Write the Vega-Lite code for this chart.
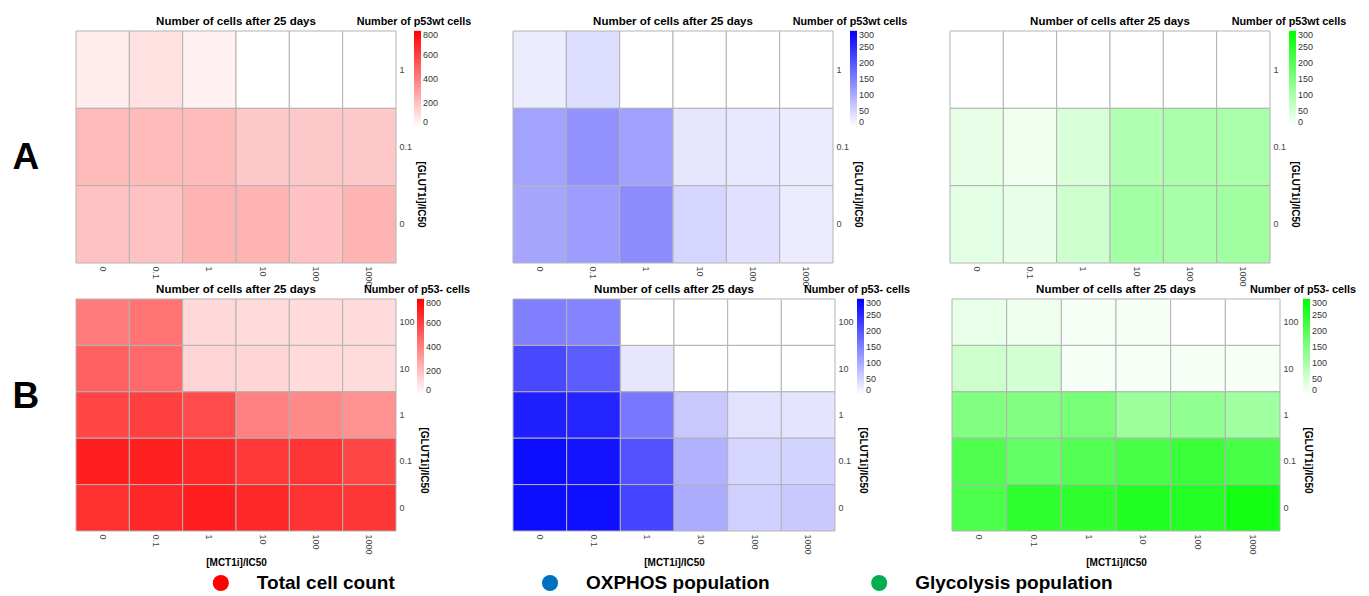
{
  "$schema": "https://vega.github.io/schema/vega-lite/v6.json",
  "padding": {"left": 12, "top": 15, "right": 5, "bottom": 2},
  "background": "white",
  "config": {
    "font": "Liberation Sans",
    "view": {"stroke": null},
    "axis": {"ticks": false, "domain": false, "grid": false, "labelFontSize": 9, "labelColor": "#444444", "titleFontSize": 10, "titleFontWeight": "bold", "titleColor": "#000000", "labelPadding": 3},
    "title": {"fontSize": 11.5, "fontWeight": "bold", "color": "#000000", "offset": -11},
    "legend": {"labelFontSize": 9, "labelColor": "#333333", "titleFontSize": 10.8, "titleFontWeight": "bold", "titleColor": "#000000", "gradientStrokeWidth": 0, "titleAnchor": "start", "titleAlign": "center", "labelOverlap": false, "titlePadding": 4, "gradientLength": 96, "gradientThickness": 7, "labelOffset": 4}
  },
  "datasets": {
    "cells": [
      {"panel": "A1", "glut": "1", "mct": "0", "v": 60}, {"panel": "A1", "glut": "1", "mct": "0.1", "v": 95}, {"panel": "A1", "glut": "1", "mct": "1", "v": 45}, {"panel": "A1", "glut": "1", "mct": "10", "v": 0}, {"panel": "A1", "glut": "1", "mct": "100", "v": 0}, {"panel": "A1", "glut": "1", "mct": "1000", "v": 0},
      {"panel": "A1", "glut": "0.1", "mct": "0", "v": 215}, {"panel": "A1", "glut": "0.1", "mct": "0.1", "v": 215}, {"panel": "A1", "glut": "0.1", "mct": "1", "v": 215}, {"panel": "A1", "glut": "0.1", "mct": "10", "v": 172}, {"panel": "A1", "glut": "0.1", "mct": "100", "v": 172}, {"panel": "A1", "glut": "0.1", "mct": "1000", "v": 172},
      {"panel": "A1", "glut": "0", "mct": "0", "v": 190}, {"panel": "A1", "glut": "0", "mct": "0.1", "v": 190}, {"panel": "A1", "glut": "0", "mct": "1", "v": 235}, {"panel": "A1", "glut": "0", "mct": "10", "v": 235}, {"panel": "A1", "glut": "0", "mct": "100", "v": 195}, {"panel": "A1", "glut": "0", "mct": "1000", "v": 235},

      {"panel": "A2", "glut": "1", "mct": "0", "v": 22}, {"panel": "A2", "glut": "1", "mct": "0.1", "v": 40}, {"panel": "A2", "glut": "1", "mct": "1", "v": 0}, {"panel": "A2", "glut": "1", "mct": "10", "v": 0}, {"panel": "A2", "glut": "1", "mct": "100", "v": 0}, {"panel": "A2", "glut": "1", "mct": "1000", "v": 0},
      {"panel": "A2", "glut": "0.1", "mct": "0", "v": 110}, {"panel": "A2", "glut": "0.1", "mct": "0.1", "v": 128}, {"panel": "A2", "glut": "0.1", "mct": "1", "v": 112}, {"panel": "A2", "glut": "0.1", "mct": "10", "v": 30}, {"panel": "A2", "glut": "0.1", "mct": "100", "v": 28}, {"panel": "A2", "glut": "0.1", "mct": "1000", "v": 22},
      {"panel": "A2", "glut": "0", "mct": "0", "v": 105}, {"panel": "A2", "glut": "0", "mct": "0.1", "v": 115}, {"panel": "A2", "glut": "0", "mct": "1", "v": 135}, {"panel": "A2", "glut": "0", "mct": "10", "v": 50}, {"panel": "A2", "glut": "0", "mct": "100", "v": 35}, {"panel": "A2", "glut": "0", "mct": "1000", "v": 22},

      {"panel": "A3", "glut": "1", "mct": "0", "v": 0}, {"panel": "A3", "glut": "1", "mct": "0.1", "v": 0}, {"panel": "A3", "glut": "1", "mct": "1", "v": 0}, {"panel": "A3", "glut": "1", "mct": "10", "v": 0}, {"panel": "A3", "glut": "1", "mct": "100", "v": 0}, {"panel": "A3", "glut": "1", "mct": "1000", "v": 0},
      {"panel": "A3", "glut": "0.1", "mct": "0", "v": 28}, {"panel": "A3", "glut": "0.1", "mct": "0.1", "v": 18}, {"panel": "A3", "glut": "0.1", "mct": "1", "v": 45}, {"panel": "A3", "glut": "0.1", "mct": "10", "v": 92}, {"panel": "A3", "glut": "0.1", "mct": "100", "v": 100}, {"panel": "A3", "glut": "0.1", "mct": "1000", "v": 100},
      {"panel": "A3", "glut": "0", "mct": "0", "v": 33}, {"panel": "A3", "glut": "0", "mct": "0.1", "v": 28}, {"panel": "A3", "glut": "0", "mct": "1", "v": 58}, {"panel": "A3", "glut": "0", "mct": "10", "v": 108}, {"panel": "A3", "glut": "0", "mct": "100", "v": 104}, {"panel": "A3", "glut": "0", "mct": "1000", "v": 112},

      {"panel": "B1", "glut": "100", "mct": "0", "v": 410}, {"panel": "B1", "glut": "100", "mct": "0.1", "v": 440}, {"panel": "B1", "glut": "100", "mct": "1", "v": 120}, {"panel": "B1", "glut": "100", "mct": "10", "v": 112}, {"panel": "B1", "glut": "100", "mct": "100", "v": 112}, {"panel": "B1", "glut": "100", "mct": "1000", "v": 112},
      {"panel": "B1", "glut": "10", "mct": "0", "v": 500}, {"panel": "B1", "glut": "10", "mct": "0.1", "v": 470}, {"panel": "B1", "glut": "10", "mct": "1", "v": 135}, {"panel": "B1", "glut": "10", "mct": "10", "v": 128}, {"panel": "B1", "glut": "10", "mct": "100", "v": 112}, {"panel": "B1", "glut": "10", "mct": "1000", "v": 110},
      {"panel": "B1", "glut": "1", "mct": "0", "v": 585}, {"panel": "B1", "glut": "1", "mct": "0.1", "v": 600}, {"panel": "B1", "glut": "1", "mct": "1", "v": 565}, {"panel": "B1", "glut": "1", "mct": "10", "v": 400}, {"panel": "B1", "glut": "1", "mct": "100", "v": 370}, {"panel": "B1", "glut": "1", "mct": "1000", "v": 345},
      {"panel": "B1", "glut": "0.1", "mct": "0", "v": 705}, {"panel": "B1", "glut": "0.1", "mct": "0.1", "v": 700}, {"panel": "B1", "glut": "0.1", "mct": "1", "v": 670}, {"panel": "B1", "glut": "0.1", "mct": "10", "v": 625}, {"panel": "B1", "glut": "0.1", "mct": "100", "v": 630}, {"panel": "B1", "glut": "0.1", "mct": "1000", "v": 580},
      {"panel": "B1", "glut": "0", "mct": "0", "v": 650}, {"panel": "B1", "glut": "0", "mct": "0.1", "v": 675}, {"panel": "B1", "glut": "0", "mct": "1", "v": 710}, {"panel": "B1", "glut": "0", "mct": "10", "v": 675}, {"panel": "B1", "glut": "0", "mct": "100", "v": 640}, {"panel": "B1", "glut": "0", "mct": "1000", "v": 630},

      {"panel": "B2", "glut": "100", "mct": "0", "v": 150}, {"panel": "B2", "glut": "100", "mct": "0.1", "v": 145}, {"panel": "B2", "glut": "100", "mct": "1", "v": 0}, {"panel": "B2", "glut": "100", "mct": "10", "v": 0}, {"panel": "B2", "glut": "100", "mct": "100", "v": 0}, {"panel": "B2", "glut": "100", "mct": "1000", "v": 0},
      {"panel": "B2", "glut": "10", "mct": "0", "v": 215}, {"panel": "B2", "glut": "10", "mct": "0.1", "v": 190}, {"panel": "B2", "glut": "10", "mct": "1", "v": 30}, {"panel": "B2", "glut": "10", "mct": "10", "v": 0}, {"panel": "B2", "glut": "10", "mct": "100", "v": 0}, {"panel": "B2", "glut": "10", "mct": "1000", "v": 0},
      {"panel": "B2", "glut": "1", "mct": "0", "v": 262}, {"panel": "B2", "glut": "1", "mct": "0.1", "v": 258}, {"panel": "B2", "glut": "1", "mct": "1", "v": 160}, {"panel": "B2", "glut": "1", "mct": "10", "v": 65}, {"panel": "B2", "glut": "1", "mct": "100", "v": 34}, {"panel": "B2", "glut": "1", "mct": "1000", "v": 32},
      {"panel": "B2", "glut": "0.1", "mct": "0", "v": 286}, {"panel": "B2", "glut": "0.1", "mct": "0.1", "v": 278}, {"panel": "B2", "glut": "0.1", "mct": "1", "v": 205}, {"panel": "B2", "glut": "0.1", "mct": "10", "v": 92}, {"panel": "B2", "glut": "0.1", "mct": "100", "v": 50}, {"panel": "B2", "glut": "0.1", "mct": "1000", "v": 52},
      {"panel": "B2", "glut": "0", "mct": "0", "v": 286}, {"panel": "B2", "glut": "0", "mct": "0.1", "v": 282}, {"panel": "B2", "glut": "0", "mct": "1", "v": 220}, {"panel": "B2", "glut": "0", "mct": "10", "v": 98}, {"panel": "B2", "glut": "0", "mct": "100", "v": 55}, {"panel": "B2", "glut": "0", "mct": "1000", "v": 63},

      {"panel": "B3", "glut": "100", "mct": "0", "v": 27}, {"panel": "B3", "glut": "100", "mct": "0.1", "v": 20}, {"panel": "B3", "glut": "100", "mct": "1", "v": 12}, {"panel": "B3", "glut": "100", "mct": "10", "v": 12}, {"panel": "B3", "glut": "100", "mct": "100", "v": 0}, {"panel": "B3", "glut": "100", "mct": "1000", "v": 0},
      {"panel": "B3", "glut": "10", "mct": "0", "v": 60}, {"panel": "B3", "glut": "10", "mct": "0.1", "v": 52}, {"panel": "B3", "glut": "10", "mct": "1", "v": 12}, {"panel": "B3", "glut": "10", "mct": "10", "v": 10}, {"panel": "B3", "glut": "10", "mct": "100", "v": 12}, {"panel": "B3", "glut": "10", "mct": "1000", "v": 10},
      {"panel": "B3", "glut": "1", "mct": "0", "v": 150}, {"panel": "B3", "glut": "1", "mct": "0.1", "v": 150}, {"panel": "B3", "glut": "1", "mct": "1", "v": 160}, {"panel": "B3", "glut": "1", "mct": "10", "v": 118}, {"panel": "B3", "glut": "1", "mct": "100", "v": 128}, {"panel": "B3", "glut": "1", "mct": "1000", "v": 112},
      {"panel": "B3", "glut": "0.1", "mct": "0", "v": 208}, {"panel": "B3", "glut": "0.1", "mct": "0.1", "v": 182}, {"panel": "B3", "glut": "0.1", "mct": "1", "v": 203}, {"panel": "B3", "glut": "0.1", "mct": "10", "v": 215}, {"panel": "B3", "glut": "0.1", "mct": "100", "v": 234}, {"panel": "B3", "glut": "0.1", "mct": "1000", "v": 215},
      {"panel": "B3", "glut": "0", "mct": "0", "v": 210}, {"panel": "B3", "glut": "0", "mct": "0.1", "v": 248}, {"panel": "B3", "glut": "0", "mct": "1", "v": 245}, {"panel": "B3", "glut": "0", "mct": "10", "v": 262}, {"panel": "B3", "glut": "0", "mct": "100", "v": 258}, {"panel": "B3", "glut": "0", "mct": "1000", "v": 278}
    ]
  },
  "bounds": "full",
  "spacing": -4,
  "resolve": {"scale": {"color": "independent", "x": "independent", "y": "independent"}, "legend": {"color": "independent"}},
  "vconcat": [
    {
      "title": {"text": "A", "orient": "left", "angle": 0, "fontSize": 37, "fontWeight": "bold", "anchor": "middle", "align": "center", "baseline": "middle", "offset": 23, "dy": 7},
      "bounds": "flush",
      "spacing": 117,
      "resolve": {"scale": {"color": "independent", "x": "independent", "y": "independent"}, "legend": {"color": "independent"}},
      "hconcat": [
        {
          "title": "Number of cells after 25 days",
          "width": 320, "height": 232,
          "data": {"name": "cells"},
          "transform": [{"filter": "datum.panel == 'A1'"}],
          "mark": {"type": "rect", "stroke": "#b3b3b3", "strokeWidth": 1},
          "encoding": {
            "x": {"field": "mct", "type": "ordinal", "sort": ["0", "0.1", "1", "10", "100", "1000"], "axis": {"labelAngle": 90, "title": null}},
            "y": {"field": "glut", "type": "ordinal", "sort": ["1", "0.1", "0"], "axis": {"orient": "right", "labelAngle": 0, "title": "[GLUT1i]/IC50", "titleAngle": 90, "titleY": 163}},
            "color": {"field": "v", "type": "quantitative", "scale": {"domain": [0, 800], "range": ["#ffffff", "#ff0000"], "interpolate": "rgb"}, "legend": {"title": "Number of p53wt cells", "orient": "none", "legendX": 281, "legendY": -15, "values": [0, 200, 400, 600, 800]}}
          }
        },
        {
          "title": "Number of cells after 25 days",
          "width": 320, "height": 232,
          "data": {"name": "cells"},
          "transform": [{"filter": "datum.panel == 'A2'"}],
          "mark": {"type": "rect", "stroke": "#b3b3b3", "strokeWidth": 1},
          "encoding": {
            "x": {"field": "mct", "type": "ordinal", "sort": ["0", "0.1", "1", "10", "100", "1000"], "axis": {"labelAngle": 90, "title": null}},
            "y": {"field": "glut", "type": "ordinal", "sort": ["1", "0.1", "0"], "axis": {"orient": "right", "labelAngle": 0, "title": "[GLUT1i]/IC50", "titleAngle": 90, "titleY": 163}},
            "color": {"field": "v", "type": "quantitative", "scale": {"domain": [0, 300], "range": ["#ffffff", "#0000ff"], "interpolate": "rgb"}, "legend": {"title": "Number of p53wt cells", "orient": "none", "legendX": 280, "legendY": -15, "values": [0, 50, 100, 150, 200, 250, 300]}}
          }
        },
        {
          "title": "Number of cells after 25 days",
          "width": 320, "height": 232,
          "data": {"name": "cells"},
          "transform": [{"filter": "datum.panel == 'A3'"}],
          "mark": {"type": "rect", "stroke": "#b3b3b3", "strokeWidth": 1},
          "encoding": {
            "x": {"field": "mct", "type": "ordinal", "sort": ["0", "0.1", "1", "10", "100", "1000"], "axis": {"labelAngle": 90, "title": null}},
            "y": {"field": "glut", "type": "ordinal", "sort": ["1", "0.1", "0"], "axis": {"orient": "right", "labelAngle": 0, "title": "[GLUT1i]/IC50", "titleAngle": 90, "titleY": 163}},
            "color": {"field": "v", "type": "quantitative", "scale": {"domain": [0, 300], "range": ["#ffffff", "#00ff00"], "interpolate": "rgb"}, "legend": {"title": "Number of p53wt cells", "orient": "none", "legendX": 282, "legendY": -15, "values": [0, 50, 100, 150, 200, 250, 300]}}
          }
        }
      ]
    },
    {
      "title": {"text": "B", "orient": "left", "angle": 0, "fontSize": 37, "fontWeight": "bold", "anchor": "middle", "align": "center", "baseline": "middle", "offset": 23, "dy": -28},
      "bounds": "flush",
      "spacing": 117,
      "resolve": {"scale": {"color": "independent", "x": "independent", "y": "independent"}, "legend": {"color": "independent"}},
      "hconcat": [
        {
          "title": "Number of cells after 25 days",
          "width": 320, "height": 232,
          "data": {"name": "cells"},
          "transform": [{"filter": "datum.panel == 'B1'"}],
          "mark": {"type": "rect", "stroke": "#b3b3b3", "strokeWidth": 1},
          "encoding": {
            "x": {"field": "mct", "type": "ordinal", "sort": ["0", "0.1", "1", "10", "100", "1000"], "axis": {"labelAngle": 90, "title": "[MCT1i]/IC50", "titlePadding": 3}},
            "y": {"field": "glut", "type": "ordinal", "sort": ["100", "10", "1", "0.1", "0"], "axis": {"orient": "right", "labelAngle": 0, "title": "[GLUT1i]/IC50", "titleAngle": 90, "titleY": 161}},
            "color": {"field": "v", "type": "quantitative", "scale": {"domain": [0, 800], "range": ["#ffffff", "#ff0000"], "interpolate": "rgb"}, "legend": {"title": "Number of p53- cells", "orient": "none", "legendX": 288, "legendY": -15, "values": [0, 200, 400, 600, 800]}}
          }
        },
        {
          "title": "Number of cells after 25 days",
          "width": 322, "height": 232,
          "data": {"name": "cells"},
          "transform": [{"filter": "datum.panel == 'B2'"}],
          "mark": {"type": "rect", "stroke": "#b3b3b3", "strokeWidth": 1},
          "encoding": {
            "x": {"field": "mct", "type": "ordinal", "sort": ["0", "0.1", "1", "10", "100", "1000"], "axis": {"labelAngle": 90, "title": "[MCT1i]/IC50", "titlePadding": 3}},
            "y": {"field": "glut", "type": "ordinal", "sort": ["100", "10", "1", "0.1", "0"], "axis": {"orient": "right", "labelAngle": 0, "title": "[GLUT1i]/IC50", "titleAngle": 90, "titleY": 161}},
            "color": {"field": "v", "type": "quantitative", "scale": {"domain": [0, 300], "range": ["#ffffff", "#0000ff"], "interpolate": "rgb"}, "legend": {"title": "Number of p53- cells", "orient": "none", "legendX": 291, "legendY": -15, "values": [0, 50, 100, 150, 200, 250, 300]}}
          }
        },
        {
          "title": "Number of cells after 25 days",
          "width": 328, "height": 232,
          "data": {"name": "cells"},
          "transform": [{"filter": "datum.panel == 'B3'"}],
          "mark": {"type": "rect", "stroke": "#b3b3b3", "strokeWidth": 1},
          "encoding": {
            "x": {"field": "mct", "type": "ordinal", "sort": ["0", "0.1", "1", "10", "100", "1000"], "axis": {"labelAngle": 90, "title": "[MCT1i]/IC50", "titlePadding": 3}},
            "y": {"field": "glut", "type": "ordinal", "sort": ["100", "10", "1", "0.1", "0"], "axis": {"orient": "right", "labelAngle": 0, "title": "[GLUT1i]/IC50", "titleAngle": 90, "titleY": 161}},
            "color": {"field": "v", "type": "quantitative", "scale": {"domain": [0, 300], "range": ["#ffffff", "#00ff00"], "interpolate": "rgb"}, "legend": {"title": "Number of p53- cells", "orient": "none", "legendX": 298, "legendY": -15, "values": [0, 50, 100, 150, 200, 250, 300]}}
          }
        }
      ]
    },
    {
      "width": 948, "height": 30,
      "data": {"values": [{"k": "Total cell count"}, {"k": "OXPHOS population"}, {"k": "Glycolysis population"}]},
      "layer": [
        {
          "mark": {"type": "circle", "size": 260, "opacity": 1},
          "encoding": {
            "x": {"field": "k", "type": "nominal", "sort": null, "scale": {"type": "point", "padding": 0.44}, "axis": null},
            "color": {"field": "k", "type": "nominal", "scale": {"domain": ["Total cell count", "OXPHOS population", "Glycolysis population"], "range": ["#ff0000", "#0070c0", "#00b050"]}, "legend": null}
          }
        },
        {
          "mark": {"type": "text", "align": "left", "baseline": "middle", "dx": 36, "fontSize": 19, "fontWeight": "bold", "color": "#000000"},
          "encoding": {
            "x": {"field": "k", "type": "nominal", "sort": null, "scale": {"type": "point", "padding": 0.44}, "axis": null},
            "text": {"field": "k"}
          }
        }
      ]
    }
  ]
}
